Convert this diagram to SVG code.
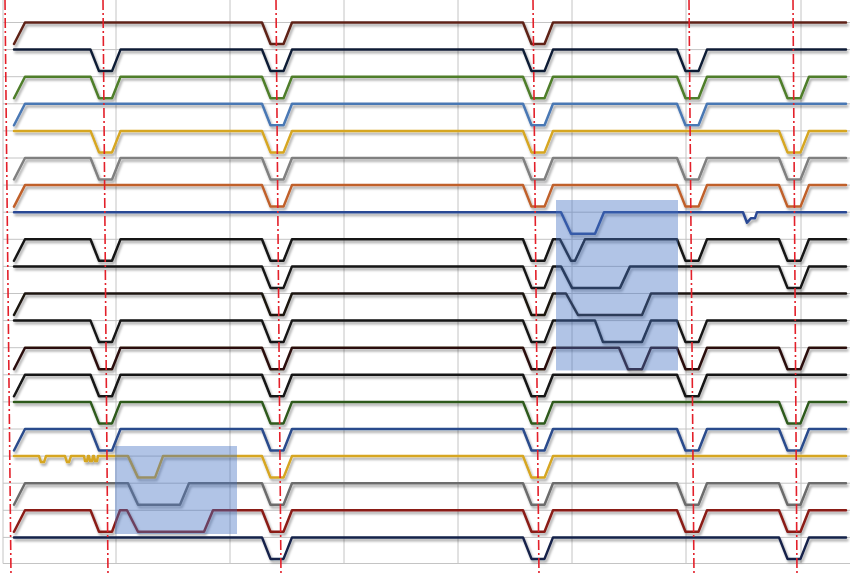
<svg xmlns="http://www.w3.org/2000/svg" width="850" height="575" viewBox="0 0 850 575">
<defs>
<filter id="sh" x="-5%" y="-50%" width="110%" height="200%">
<feDropShadow dx="1.5" dy="2.5" stdDeviation="1.2" flood-color="#000" flood-opacity="0.35"/>
</filter>
<style>
.grid line{stroke:#c4c4c4;stroke-width:1}
.tr path{fill:none;stroke-width:2.5;stroke-linejoin:round;stroke-linecap:round}
.mk line{stroke:#e3202a;stroke-width:1.6;stroke-dasharray:10 3 2 3}
.box{fill:#4472c4;fill-opacity:0.42}
</style>
</defs>
<rect width="850" height="575" fill="#fff"/>
<g class="grid" id="grid">
<line x1="3" y1="0" x2="3" y2="563.5"/>
<line x1="116" y1="0" x2="116" y2="563.5"/>
<line x1="230" y1="0" x2="230" y2="563.5"/>
<line x1="344" y1="0" x2="344" y2="563.5"/>
<line x1="458" y1="0" x2="458" y2="563.5"/>
<line x1="572" y1="0" x2="572" y2="563.5"/>
<line x1="686" y1="0" x2="686" y2="563.5"/>
<line x1="801" y1="0" x2="801" y2="563.5"/>
<line x1="3" y1="22.5" x2="850" y2="22.5"/>
<line x1="3" y1="49.6" x2="850" y2="49.6"/>
<line x1="3" y1="76.7" x2="850" y2="76.7"/>
<line x1="3" y1="103.8" x2="850" y2="103.8"/>
<line x1="3" y1="130.9" x2="850" y2="130.9"/>
<line x1="3" y1="158" x2="850" y2="158"/>
<line x1="3" y1="185.1" x2="850" y2="185.1"/>
<line x1="3" y1="212.2" x2="850" y2="212.2"/>
<line x1="3" y1="239.3" x2="850" y2="239.3"/>
<line x1="3" y1="266.4" x2="850" y2="266.4"/>
<line x1="3" y1="293.5" x2="850" y2="293.5"/>
<line x1="3" y1="320.6" x2="850" y2="320.6"/>
<line x1="3" y1="347.7" x2="850" y2="347.7"/>
<line x1="3" y1="374.8" x2="850" y2="374.8"/>
<line x1="3" y1="401.9" x2="850" y2="401.9"/>
<line x1="3" y1="429" x2="850" y2="429"/>
<line x1="3" y1="456.1" x2="850" y2="456.1"/>
<line x1="3" y1="483.2" x2="850" y2="483.2"/>
<line x1="3" y1="510.3" x2="850" y2="510.3"/>
<line x1="3" y1="537.4" x2="850" y2="537.4"/>
<line x1="3" y1="563.5" x2="850" y2="563.5"/>
</g>
<g class="tr" filter="url(#sh)">
<g id="s0" transform="translate(0,22.5)"><path stroke="#5e2218" d="M14 21.5 L25 0 L262 0 L270.5 21.5 L283.5 21.5 L292 0 L523 0 L531.5 21.5 L544.5 21.5 L553 0 L846 0"/></g>
<g id="s1" transform="translate(0,49.6)"><path stroke="#111c35" d="M14 0 L90.5 0 L99 21.5 L112 21.5 L120.5 0 L262 0 L270.5 21.5 L283.5 21.5 L292 0 L523 0 L531.5 21.5 L544.5 21.5 L553 0 L677 0 L685.5 21.5 L698.5 21.5 L707 0 L846 0"/></g>
<g id="s2" transform="translate(0,76.7)"><path stroke="#4f7e2c" d="M14 21.5 L25 0 L90.5 0 L99 21.5 L112 21.5 L120.5 0 L262 0 L270.5 21.5 L283.5 21.5 L292 0 L523 0 L531.5 21.5 L544.5 21.5 L553 0 L677 0 L685.5 21.5 L698.5 21.5 L707 0 L779 0 L787.5 21.5 L800.5 21.5 L809 0 L846 0"/></g>
<g id="s3" transform="translate(0,103.8)"><path stroke="#4a78b4" d="M14 21.5 L25 0 L262 0 L270.5 21.5 L283.5 21.5 L292 0 L523 0 L531.5 21.5 L544.5 21.5 L553 0 L677 0 L685.5 21.5 L698.5 21.5 L707 0 L846 0"/></g>
<g id="s4" transform="translate(0,130.9)"><path stroke="#d6a620" stroke-width="3" d="M14 0 L90.5 0 L99 21.5 L112 21.5 L120.5 0 L262 0 L270.5 21.5 L283.5 21.5 L292 0 L523 0 L531.5 21.5 L544.5 21.5 L553 0 L779 0 L787.5 21.5 L800.5 21.5 L809 0 L846 0"/></g>
<g id="s5" transform="translate(0,158)"><path stroke="#808080" d="M14 21.5 L25 0 L90.5 0 L99 21.5 L112 21.5 L120.5 0 L262 0 L270.5 21.5 L283.5 21.5 L292 0 L523 0 L531.5 21.5 L544.5 21.5 L553 0 L677 0 L685.5 21.5 L698.5 21.5 L707 0 L779 0 L787.5 21.5 L800.5 21.5 L809 0 L846 0"/></g>
<g id="s6" transform="translate(0,185.1)"><path stroke="#c0612c" d="M14 21.5 L25 0 L262 0 L270.5 21.5 L283.5 21.5 L292 0 L523 0 L531.5 21.5 L544.5 21.5 L553 0 L677 0 L685.5 21.5 L698.5 21.5 L707 0 L779 0 L787.5 21.5 L800.5 21.5 L809 0 L846 0"/></g>
<g id="s7" transform="translate(0,212.2)"><path stroke="#2c4a94" stroke-width="1.6" d="M14 0 L561 0 L571 21.5 L595 21.5 L604 0 L743 0 L747 10.5 L751 6 L755 6 L757 0 L846 0"/></g>
<g id="s8" transform="translate(0,239.3)"><path stroke="#141414" d="M14 21.5 L25 0 L90.5 0 L99 21.5 L112 21.5 L120.5 0 L262 0 L270.5 21.5 L283.5 21.5 L292 0 L523 0 L531.5 21.5 L544.5 21.5 L553 0 L560 0 L571 21.5 L575 21.5 L585 0 L677 0 L685.5 21.5 L698.5 21.5 L707 0 L779 0 L787.5 21.5 L800.5 21.5 L809 0 L846 0"/></g>
<g id="s9" transform="translate(0,266.4)"><path stroke="#141414" d="M14 0 L262 0 L270.5 21.5 L283.5 21.5 L292 0 L523 0 L531.5 21.5 L544.5 21.5 L553 0 L561 0 L572 21.5 L620 21.5 L630 0 L779 0 L787.5 21.5 L800.5 21.5 L809 0 L846 0"/></g>
<g id="s10" transform="translate(0,293.5)"><path stroke="#1a1410" d="M14 21.5 L25 0 L262 0 L270.5 21.5 L283.5 21.5 L292 0 L523 0 L531.5 21.5 L544.5 21.5 L553 0 L566 0 L578 21.5 L642 21.5 L651 0 L846 0"/></g>
<g id="s11" transform="translate(0,320.6)"><path stroke="#141414" d="M14 0 L90.5 0 L99 21.5 L112 21.5 L120.5 0 L262 0 L270.5 21.5 L283.5 21.5 L292 0 L523 0 L531.5 21.5 L544.5 21.5 L553 0 L595 0 L603 21.5 L642 21.5 L651 0 L677 0 L685.5 21.5 L698.5 21.5 L707 0 L846 0"/></g>
<g id="s12" transform="translate(0,347.7)"><path stroke="#2a0e0a" d="M14 21.5 L25 0 L90.5 0 L99 21.5 L112 21.5 L120.5 0 L262 0 L270.5 21.5 L283.5 21.5 L292 0 L523 0 L531.5 21.5 L544.5 21.5 L553 0 L619 0 L628 21.5 L642 21.5 L651 0 L677 0 L685.5 21.5 L698.5 21.5 L707 0 L779 0 L787.5 21.5 L800.5 21.5 L809 0 L846 0"/></g>
<g id="s13" transform="translate(0,374.8)"><path stroke="#141414" d="M14 21.5 L25 0 L90.5 0 L99 21.5 L112 21.5 L120.5 0 L262 0 L270.5 21.5 L283.5 21.5 L292 0 L523 0 L531.5 21.5 L544.5 21.5 L553 0 L677 0 L685.5 21.5 L698.5 21.5 L707 0 L846 0"/></g>
<g id="s14" transform="translate(0,401.9)"><path stroke="#2f5a1c" d="M14 0 L90.5 0 L99 21.5 L112 21.5 L120.5 0 L262 0 L270.5 21.5 L283.5 21.5 L292 0 L523 0 L531.5 21.5 L544.5 21.5 L553 0 L779 0 L787.5 21.5 L800.5 21.5 L809 0 L846 0"/></g>
<g id="s15" transform="translate(0,429)"><path stroke="#2b4b8c" d="M14 21.5 L25 0 L90.5 0 L99 21.5 L112 21.5 L120.5 0 L262 0 L270.5 21.5 L283.5 21.5 L292 0 L523 0 L531.5 21.5 L544.5 21.5 L553 0 L677 0 L685.5 21.5 L698.5 21.5 L707 0 L779 0 L787.5 21.5 L800.5 21.5 L809 0 L846 0"/></g>
<g id="s16" transform="translate(0,456.1)"><path stroke="#d6a620" stroke-width="3" d="M14 0 L39 0 L41 6 L44 6 L46 0 L65 0 L67 6 L69 6 L71 0 L84 0 L85 5 L87 5 L88 0 L89 0 L90 5 L92 5 L93 0 L94 0 L95 5 L97 5 L98 0 L128 0 L138 21.5 L155 21.5 L163 0 L262 0 L270.5 21.5 L283.5 21.5 L292 0 L523 0 L531.5 21.5 L544.5 21.5 L553 0 L846 0"/></g>
<g id="s17" transform="translate(0,483.2)"><path stroke="#6c6c6c" d="M14 21.5 L25 0 L128 0 L138 21.5 L180 21.5 L189 0 L262 0 L270.5 21.5 L283.5 21.5 L292 0 L523 0 L531.5 21.5 L544.5 21.5 L553 0 L677 0 L685.5 21.5 L698.5 21.5 L707 0 L779 0 L787.5 21.5 L800.5 21.5 L809 0 L846 0"/></g>
<g id="s18" transform="translate(0,510.3)"><path stroke="#8a1c18" d="M14 21.5 L25 0 L90.5 0 L99 21.5 L112 21.5 L120 0 L127 0 L138 21.5 L204 21.5 L213 0 L262 0 L270.5 21.5 L283.5 21.5 L292 0 L523 0 L531.5 21.5 L544.5 21.5 L553 0 L677 0 L685.5 21.5 L698.5 21.5 L707 0 L779 0 L787.5 21.5 L800.5 21.5 L809 0 L846 0"/></g>
<g id="s19" transform="translate(0,537.4)"><path stroke="#15214a" d="M14 0 L262 0 L270.5 21.5 L283.5 21.5 L292 0 L523 0 L531.5 21.5 L544.5 21.5 L553 0 L779 0 L787.5 21.5 L800.5 21.5 L809 0 L846 0"/></g>
</g>
<g id="highlights">
<rect class="box" x="556" y="200" width="122" height="170.5"/>
<rect class="box" x="115" y="446" width="122" height="88"/>
</g>
<g class="mk" id="markers">
<line x1="5" y1="0" x2="11" y2="575"/>
<line x1="103" y1="0" x2="108" y2="575"/>
<line x1="276" y1="0" x2="281" y2="575"/>
<line x1="533" y1="0" x2="539" y2="575"/>
<line x1="689" y1="0" x2="694" y2="575"/>
<line x1="793" y1="0" x2="797" y2="575"/>
</g>
</svg>
